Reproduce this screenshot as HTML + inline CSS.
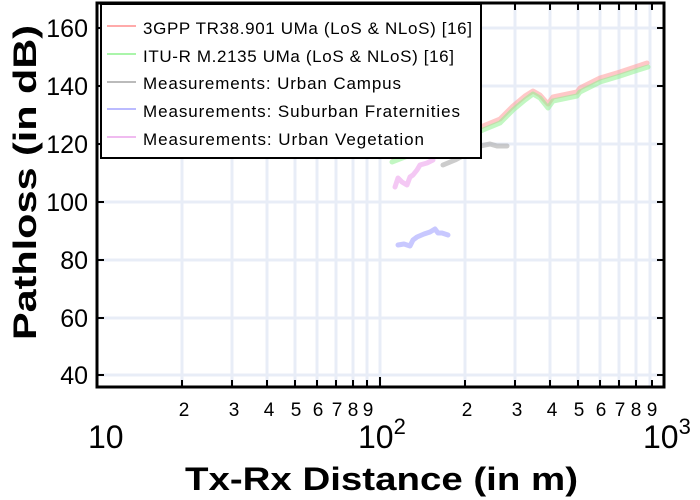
<!DOCTYPE html>
<html><head><style>
html,body{margin:0;padding:0;background:#fff;}
svg{display:block;font-family:"Liberation Sans",sans-serif;}
</style></head><body>
<svg width="700" height="500" viewBox="0 0 700 500" xmlns="http://www.w3.org/2000/svg">
<rect width="700" height="500" fill="#fff"/>
<g stroke="#e8edf7" stroke-width="3">
<line x1="182" y1="3" x2="182" y2="387"/><line x1="232" y1="3" x2="232" y2="387"/>
<line x1="267" y1="3" x2="267" y2="387"/><line x1="295" y1="3" x2="295" y2="387"/>
<line x1="317" y1="3" x2="317" y2="387"/><line x1="336" y1="3" x2="336" y2="387"/>
<line x1="353" y1="3" x2="353" y2="387"/><line x1="367" y1="3" x2="367" y2="387"/>
<line x1="380" y1="3" x2="380" y2="387"/>
<line x1="465" y1="3" x2="465" y2="387"/><line x1="515" y1="3" x2="515" y2="387"/>
<line x1="550" y1="3" x2="550" y2="387"/><line x1="578" y1="3" x2="578" y2="387"/>
<line x1="600" y1="3" x2="600" y2="387"/><line x1="619" y1="3" x2="619" y2="387"/>
<line x1="636" y1="3" x2="636" y2="387"/><line x1="650" y1="3" x2="650" y2="387"/>
<line x1="97" y1="28" x2="663" y2="28"/><line x1="97" y1="86" x2="663" y2="86"/>
<line x1="97" y1="144" x2="663" y2="144"/><line x1="97" y1="202" x2="663" y2="202"/>
<line x1="97" y1="260" x2="663" y2="260"/><line x1="97" y1="318" x2="663" y2="318"/>
<line x1="97" y1="375" x2="663" y2="375"/>
</g>
<g fill="none" stroke-width="5" stroke-linejoin="round" stroke-linecap="round">
<polyline stroke="#ff9a9a" stroke-opacity="0.55" points="392,157 410,150 440,140 470,131 483,126 500,119 513,106 525,96 533,91 540,95 548,104 553,97 577,92 580,88 600,78 620,72 635,67 647,63"/>
<polyline stroke="#8ff08f" stroke-opacity="0.55" points="392,162 410,155 440,145 470,135 483,130 500,123 513,110 525,100 533,94 540,98 548,108 553,101 577,96 580,92 600,82 620,76 635,71 648,67"/>
<polyline stroke="#aaaaaa" stroke-opacity="0.6" points="443,165 455,160 470,152 480,146 490,144 497,146 507,146"/>
<polyline stroke="#f0b0f0" stroke-opacity="0.7" points="395,187 398,178 402,182 407,185 410,177 413,175 417,170 420,165 427,163 433,160"/>
<polyline stroke="#b0b0ff" stroke-opacity="0.7" points="398,245 404,244 410,246 413,240 417,237 424,234 430,232 435,229 438,233 442,233 448,235"/>
</g>
<g stroke="#000" stroke-width="3" fill="none">
<rect x="97" y="3" width="567" height="384"/>
</g>
<g stroke="#000" stroke-width="2">
<line x1="182" y1="387" x2="182" y2="380"/><line x1="232" y1="387" x2="232" y2="380"/>
<line x1="267" y1="387" x2="267" y2="380"/><line x1="295" y1="387" x2="295" y2="380"/>
<line x1="317" y1="387" x2="317" y2="380"/><line x1="336" y1="387" x2="336" y2="380"/>
<line x1="353" y1="387" x2="353" y2="380"/><line x1="367" y1="387" x2="367" y2="380"/>
<line x1="380" y1="387" x2="380" y2="377"/>
<line x1="465" y1="387" x2="465" y2="380"/><line x1="515" y1="387" x2="515" y2="380"/>
<line x1="550" y1="387" x2="550" y2="380"/><line x1="578" y1="387" x2="578" y2="380"/>
<line x1="600" y1="387" x2="600" y2="380"/><line x1="619" y1="387" x2="619" y2="380"/>
<line x1="636" y1="387" x2="636" y2="380"/><line x1="652" y1="387" x2="652" y2="380"/>
<line x1="515" y1="3" x2="515" y2="10"/><line x1="550" y1="3" x2="550" y2="10"/>
<line x1="578" y1="3" x2="578" y2="10"/><line x1="600" y1="3" x2="600" y2="10"/>
<line x1="619" y1="3" x2="619" y2="10"/><line x1="636" y1="3" x2="636" y2="10"/>
<line x1="652" y1="3" x2="652" y2="10"/>
<line x1="97" y1="28" x2="104" y2="28"/><line x1="97" y1="86" x2="104" y2="86"/>
<line x1="97" y1="144" x2="104" y2="144"/><line x1="97" y1="202" x2="104" y2="202"/>
<line x1="97" y1="260" x2="104" y2="260"/><line x1="97" y1="318" x2="104" y2="318"/>
<line x1="97" y1="375" x2="104" y2="375"/>
<line x1="664" y1="28" x2="657" y2="28"/><line x1="664" y1="86" x2="657" y2="86"/>
<line x1="664" y1="144" x2="657" y2="144"/><line x1="664" y1="202" x2="657" y2="202"/>
<line x1="664" y1="260" x2="657" y2="260"/><line x1="664" y1="318" x2="657" y2="318"/>
<line x1="664" y1="375" x2="657" y2="375"/>
</g>
<g font-size="25" text-anchor="end" fill="#000">
<text x="88" y="37">160</text><text x="88" y="95">140</text><text x="88" y="153">120</text>
<text x="88" y="211">100</text><text x="88" y="269">80</text><text x="88" y="327">60</text>
<text x="88" y="384">40</text>
</g>
<g font-size="19" text-anchor="middle" fill="#000">
<text x="184" y="416">2</text><text x="234" y="416">3</text><text x="269" y="416">4</text>
<text x="296" y="416">5</text><text x="318" y="416">6</text><text x="337" y="416">7</text>
<text x="353" y="416">8</text><text x="368" y="416">9</text>
<text x="467" y="416">2</text><text x="517" y="416">3</text><text x="552" y="416">4</text>
<text x="579" y="416">5</text><text x="601" y="416">6</text><text x="620" y="416">7</text>
<text x="636" y="416">8</text><text x="652" y="416">9</text>
</g>
<g font-size="32" fill="#000">
<text x="88" y="448">10</text>
<text x="358" y="448">10<tspan font-size="22" dy="-14">2</tspan></text>
<text x="643" y="448">10<tspan font-size="22" dy="-14">3</tspan></text>
</g>
<text x="185" y="490" font-size="32" font-weight="bold" textLength="393" lengthAdjust="spacingAndGlyphs">Tx-Rx Distance (in m)</text>
<text transform="translate(36,340) rotate(-90)" font-size="32" font-weight="bold" textLength="315" lengthAdjust="spacingAndGlyphs">Pathloss (in dB)</text>
<rect x="101" y="4" width="380" height="154" fill="#fff" stroke="#000" stroke-width="2"/>
<g stroke-width="2">
<line x1="107" y1="26" x2="136" y2="26" stroke="#ffaaaa"/>
<line x1="107" y1="54" x2="136" y2="54" stroke="#aaf5aa"/>
<line x1="107" y1="82" x2="136" y2="82" stroke="#bbbbbb"/>
<line x1="107" y1="109" x2="136" y2="109" stroke="#bbbbff"/>
<line x1="107" y1="137" x2="136" y2="137" stroke="#f0bbf0"/>
</g>
<g font-size="17" fill="#000" lengthAdjust="spacingAndGlyphs">
<text x="143" y="34" textLength="329">3GPP TR38.901 UMa (LoS &amp; NLoS) [16]</text>
<text x="143" y="62" textLength="311">ITU-R M.2135 UMa (LoS &amp; NLoS) [16]</text>
<text x="143" y="89" textLength="258">Measurements: Urban Campus</text>
<text x="143" y="117" textLength="317">Measurements: Suburban Fraternities</text>
<text x="143" y="145" textLength="281">Measurements: Urban Vegetation</text>
</g>
</svg>
</body></html>
